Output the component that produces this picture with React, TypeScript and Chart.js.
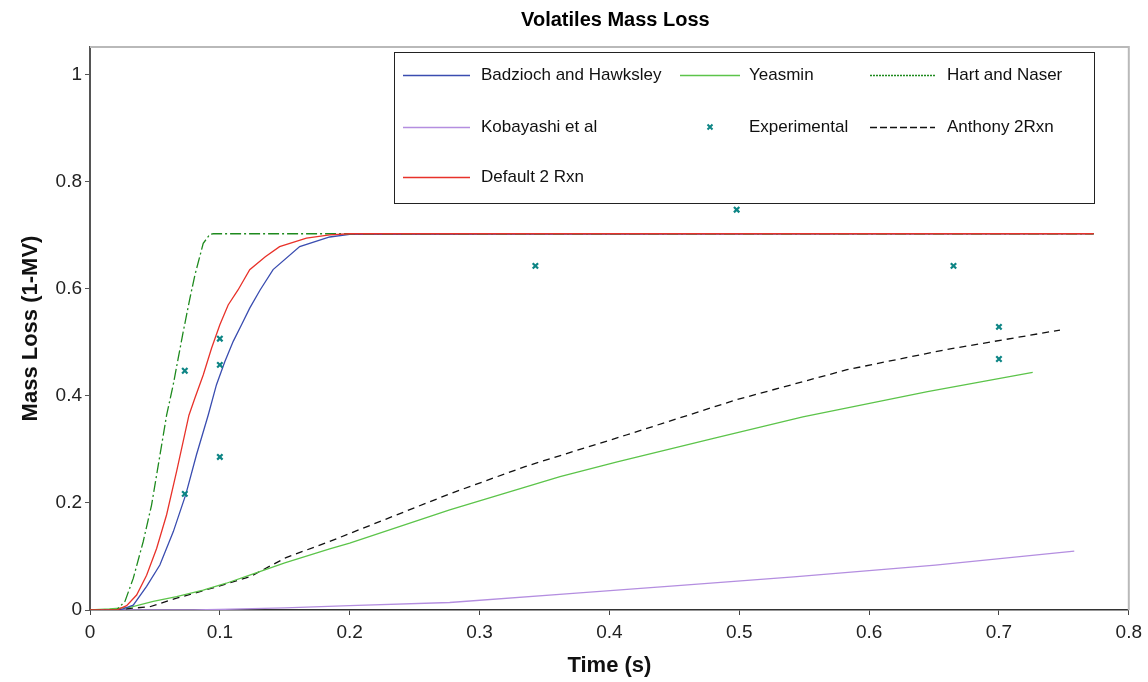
import React, { useEffect, useRef } from 'react';
import { Chart, registerables } from 'chart.js';

Chart.register(...registerables);

// ---- data (time in s, mass loss 1-MV) ----
const badziochT = [0, 0.023, 0.0333, 0.0436, 0.0538, 0.0641, 0.0738, 0.082, 0.091, 0.0974, 0.1038, 0.1103, 0.1167, 0.123, 0.131, 0.141, 0.1615, 0.1846, 0.2, 0.773];
const badziochV = [0, 0, 0.009, 0.044, 0.084, 0.146, 0.216, 0.29, 0.364, 0.421, 0.464, 0.502, 0.533, 0.564, 0.598, 0.636, 0.679, 0.697, 0.702, 0.703];

const yeasminT = [0, 0.015, 0.0308, 0.0487, 0.0667, 0.0872, 0.105, 0.123, 0.15, 0.1846, 0.2, 0.277, 0.362, 0.406, 0.481, 0.549, 0.645, 0.726];
const yeasminV = [0, 0.002, 0.005, 0.016, 0.025, 0.037, 0.05, 0.065, 0.088, 0.114, 0.125, 0.187, 0.249, 0.277, 0.321, 0.361, 0.408, 0.444];

const hartT = [0, 0.0205, 0.0269, 0.0333, 0.041, 0.0474, 0.0526, 0.059, 0.0641, 0.0679, 0.0718, 0.0769, 0.0808, 0.0872, 0.0923, 0.095, 0.773];
const hartV = [0, 0, 0.016, 0.059, 0.128, 0.196, 0.271, 0.364, 0.421, 0.47, 0.52, 0.582, 0.626, 0.685, 0.702, 0.703, 0.703];

const kobayashiT = [0, 0.08, 0.1, 0.15, 0.2, 0.277, 0.372, 0.45, 0.542, 0.651, 0.758];
const kobayashiV = [0, 0, 0.001, 0.004, 0.008, 0.014, 0.031, 0.045, 0.062, 0.084, 0.11];

const expT = [0.073, 0.073, 0.1, 0.1, 0.1, 0.343, 0.498, 0.665, 0.7, 0.7];
const expV = [0.447, 0.217, 0.507, 0.458, 0.286, 0.643, 0.748, 0.643, 0.529, 0.469];

const anthonyT = [0, 0.019, 0.031, 0.046, 0.0667, 0.1, 0.123, 0.151, 0.1846, 0.2, 0.277, 0.335, 0.413, 0.498, 0.583, 0.658, 0.747];
const anthonyV = [0, 0, 0.003, 0.006, 0.022, 0.045, 0.062, 0.098, 0.128, 0.143, 0.217, 0.268, 0.327, 0.393, 0.449, 0.486, 0.523];

const defaultT = [0, 0.0205, 0.0282, 0.0359, 0.0436, 0.0513, 0.059, 0.0667, 0.0762, 0.0808, 0.0872, 0.0936, 0.1, 0.1064, 0.114, 0.123, 0.135, 0.146, 0.1667, 0.1846, 0.2, 0.773];
const defaultV = [0, 0, 0.008, 0.028, 0.065, 0.115, 0.178, 0.259, 0.364, 0.396, 0.439, 0.489, 0.533, 0.57, 0.598, 0.636, 0.66, 0.679, 0.695, 0.701, 0.703, 0.703];

const xTicks = [0, 0.1, 0.2, 0.3, 0.4, 0.5, 0.6, 0.7, 0.8];
const yTicks = [0, 0.2, 0.4, 0.6, 0.8, 1];

const titleText = 'Volatiles Mass Loss';
const xTitle = 'Time (s)';
const yTitle = 'Mass Loss (1-MV)';

const FONT = '"Liberation Sans", Arial, Helvetica, sans-serif';

const pts = (t: number[], v: number[]) => t.map((x, i) => ({ x, y: v[i] }));
const fmt = (v: number) => String(parseFloat(Number(v).toFixed(2)));

// chart title, centred over the plot area
const titlePlugin = {
  id: 'plotTitle',
  afterDraw(chart: any) {
    const { ctx, chartArea } = chart;
    ctx.save();
    ctx.font = 'bold 20px ' + FONT;
    ctx.fillStyle = '#000000';
    ctx.textAlign = 'center';
    ctx.textBaseline = 'middle';
    ctx.fillText(titleText, (chartArea.left + chartArea.right) / 2 + 6, 20);
    ctx.restore();
  },
};

// legend drawn inside the plot, in a framed box
const legendPlugin = {
  id: 'boxLegend',
  afterDraw(chart: any) {
    const ctx = chart.ctx;
    const box = { x: 394.5, y: 52.5, w: 700, h: 151 };
    ctx.save();
    ctx.fillStyle = '#ffffff';
    ctx.fillRect(box.x, box.y, box.w, box.h);
    ctx.strokeStyle = '#222222';
    ctx.lineWidth = 1;
    ctx.strokeRect(box.x, box.y, box.w, box.h);
    const rowsY = [75, 127, 177];
    const cols = [
      { x0: 403, x1: 470, tx: 481 },
      { x0: 680, x1: 740, tx: 749 },
      { x0: 870, x1: 935, tx: 947 },
    ];
    ctx.font = '17px ' + FONT;
    ctx.textBaseline = 'middle';
    ctx.textAlign = 'left';
    chart.data.datasets.forEach((ds: any, i: number) => {
      const r = Math.floor(i / 3);
      const c = cols[i % 3];
      const y = rowsY[r];
      if (ds.showLine === false) {
        const cx = (c.x0 + c.x1) / 2;
        ctx.strokeStyle = ds.borderColor;
        ctx.lineWidth = 2;
        ctx.setLineDash([]);
        ctx.beginPath();
        ctx.moveTo(cx - 2.5, y - 2.5);
        ctx.lineTo(cx + 2.5, y + 2.5);
        ctx.moveTo(cx + 2.5, y - 2.5);
        ctx.lineTo(cx - 2.5, y + 2.5);
        ctx.stroke();
      } else {
        ctx.strokeStyle = ds.borderColor;
        ctx.lineWidth = ds.legendWidth || 1.3;
        ctx.setLineDash(ds.legendDash || []);
        ctx.beginPath();
        ctx.moveTo(c.x0, y + 0.5);
        ctx.lineTo(c.x1, y + 0.5);
        ctx.stroke();
      }
      ctx.setLineDash([]);
      ctx.fillStyle = '#111111';
      ctx.fillText(ds.label, c.tx, y);
    });
    ctx.restore();
  },
};

const framePlugin = {
  id: 'grayFrame',
  beforeDatasetsDraw(chart: any) {
    const { ctx, chartArea } = chart;
    ctx.save();
    ctx.strokeStyle = '#b9b9b9';
    ctx.lineWidth = 2;
    ctx.beginPath();
    ctx.moveTo(chartArea.left, chartArea.top);
    ctx.lineTo(chartArea.right, chartArea.top);
    ctx.lineTo(chartArea.right, chartArea.bottom);
    ctx.stroke();
    ctx.restore();
  },
};

export default function App() {
  const ref = useRef<HTMLCanvasElement | null>(null);

  useEffect(() => {
    if (!ref.current) return;
    const lineBase = { showLine: true, pointRadius: 0, pointHoverRadius: 0, borderWidth: 1.3, tension: 0, fill: false };
    const chart = new Chart(ref.current, {
      type: 'scatter',
      data: {
        datasets: [
          { ...lineBase, label: 'Badzioch and Hawksley', data: pts(badziochT, badziochV), borderColor: '#3a4db0', backgroundColor: '#3a4db0', order: 3 },
          { ...lineBase, label: 'Yeasmin', data: pts(yeasminT, yeasminV), borderColor: '#5cc44a', backgroundColor: '#5cc44a', order: 4 },
          { ...lineBase, label: 'Hart and Naser', data: pts(hartT, hartV), borderColor: '#1e8a1e', backgroundColor: '#1e8a1e', borderDash: [11, 3, 2, 3], legendDash: [2, 1], legendWidth: 1.6, order: 2 },
          { ...lineBase, label: 'Kobayashi et al', data: pts(kobayashiT, kobayashiV), borderColor: '#b48ee0', backgroundColor: '#b48ee0', order: 6 },
          { label: 'Experimental', data: pts(expT, expV), showLine: false, pointStyle: 'crossRot', pointRadius: 3.8, pointBorderWidth: 2.2, borderColor: '#0d8585', backgroundColor: '#0d8585', order: -1 },
          { ...lineBase, label: 'Anthony 2Rxn', data: pts(anthonyT, anthonyV), borderColor: '#111111', backgroundColor: '#111111', borderDash: [7, 5], legendDash: [7, 3], order: 5 },
          { ...lineBase, label: 'Default 2 Rxn', data: pts(defaultT, defaultV), borderColor: '#e8322a', backgroundColor: '#e8322a', order: 1 },
        ] as any,
      },
      options: {
        responsive: false,
        animation: false,
        devicePixelRatio: 1,
        layout: { padding: { top: 47, right: 18, bottom: 0, left: 0 } },
        plugins: {
          legend: { display: false },
          tooltip: { enabled: false },
          title: { display: false },
        },
        scales: {
          x: {
            type: 'linear',
            min: 0,
            max: 0.8,
            afterBuildTicks: (axis: any) => { axis.ticks = xTicks.map((value) => ({ value })); },
            afterFit: (axis: any) => { axis.height = 72; },
            ticks: { color: '#222222', font: { family: FONT, size: 19 }, padding: 6, callback: (v: any) => fmt(v), maxRotation: 0, autoSkip: false },
            grid: { display: true, drawOnChartArea: false, drawTicks: true, tickLength: 5, color: '#444444', lineWidth: 1 },
            border: { display: true, color: '#333333', width: 1.5 },
            title: { display: true, text: xTitle, color: '#111111', font: { family: FONT, size: 22, weight: 'bold' }, padding: { top: 0, bottom: 3 } },
          },
          y: {
            type: 'linear',
            min: 0,
            max: 1.052,
            afterBuildTicks: (axis: any) => { axis.ticks = yTicks.map((value) => ({ value })); },
            afterFit: (axis: any) => { axis.width = 90; },
            ticks: { color: '#222222', font: { family: FONT, size: 19 }, padding: 3, callback: (v: any) => fmt(v), autoSkip: false },
            grid: { display: true, drawOnChartArea: false, drawTicks: true, tickLength: 5, color: '#555555', lineWidth: 1 },
            border: { display: true, color: '#555555', width: 2 },
            title: { display: true, text: yTitle, color: '#111111', font: { family: FONT, size: 22, weight: 'bold' }, padding: { top: 18, bottom: 0 } },
          },
        },
      } as any,
      plugins: [framePlugin, legendPlugin, titlePlugin],
    });
    return () => chart.destroy();
  }, []);

  return (
    <div style={{ position: 'absolute', left: 0, top: 0, width: 1148, height: 682, background: '#ffffff' }}>
      <canvas ref={ref} width={1148} height={682} style={{ display: 'block', width: 1148, height: 682 }} />
    </div>
  );
}
